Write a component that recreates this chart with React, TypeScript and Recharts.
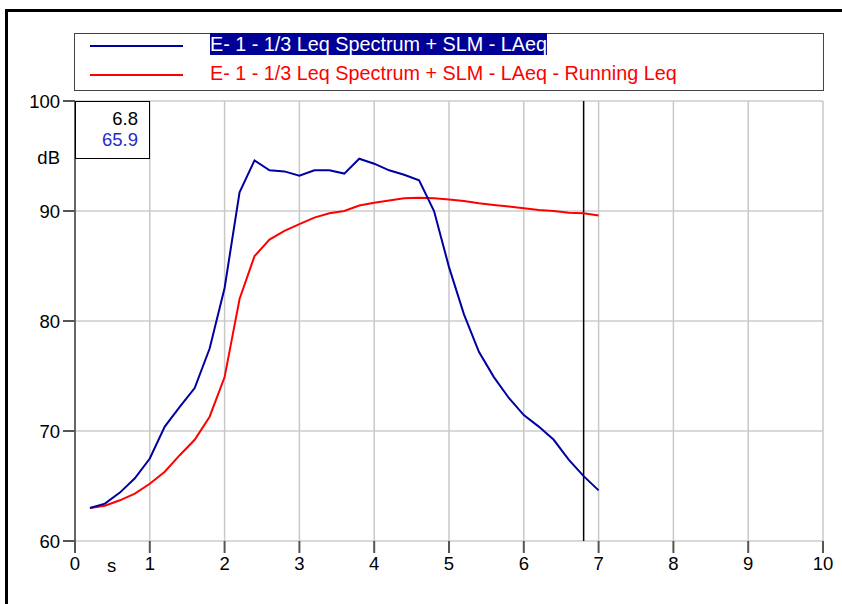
import React from 'react';
import { LineChart, Line, XAxis, YAxis, CartesianGrid, ReferenceLine } from 'recharts';

const times = [0.2, 0.4, 0.6, 0.8, 1.0, 1.2, 1.4, 1.6, 1.8, 2.0, 2.2, 2.4, 2.6, 2.8, 3.0, 3.2, 3.4, 3.6, 3.8, 4.0, 4.2, 4.4, 4.6, 4.8, 5.0, 5.2, 5.4, 5.6, 5.8, 6.0, 6.2, 6.4, 6.6, 6.8, 7.0];
const laeq = [63.0, 63.4, 64.4, 65.7, 67.5, 70.4, 72.2, 73.9, 77.5, 83.0, 91.7, 94.6, 93.7, 93.6, 93.2, 93.7, 93.7, 93.4, 94.75, 94.3, 93.7, 93.3, 92.8, 90.0, 84.9, 80.6, 77.2, 74.9, 73.0, 71.45, 70.4, 69.2, 67.4, 65.9, 64.6];
const runningLeq = [63.0, 63.2, 63.7, 64.3, 65.2, 66.3, 67.8, 69.2, 71.3, 74.9, 82.0, 85.9, 87.4, 88.2, 88.8, 89.4, 89.8, 90.0, 90.5, 90.75, 90.95, 91.15, 91.2, 91.15, 91.05, 90.9, 90.7, 90.55, 90.4, 90.25, 90.1, 90.0, 89.85, 89.8, 89.6];
const xTicks = [0, 1, 2, 3, 4, 5, 6, 7, 8, 9, 10];
const yTicks = [60, 70, 80, 90, 100];
const seriesNames = ['E- 1 - 1/3 Leq Spectrum + SLM - LAeq', 'E- 1 - 1/3 Leq Spectrum + SLM - LAeq - Running Leq'];
const cursorTime = 6.8;
const cursorValue = 65.9;

const data = times.map((t, i) => ({ t, a: laeq[i], b: runningLeq[i] }));

const FONT = '"Liberation Sans", Arial, sans-serif';

export default function App() {
  return (
    <div style={{ position: 'absolute', left: 0, top: 0, width: 842, height: 604, overflow: 'hidden', background: '#fff', fontFamily: FONT }}>
      <div style={{ position: 'absolute', left: 5, top: 9, width: 900, height: 700, border: '3px solid #000', boxSizing: 'border-box' }} />
      <div style={{ position: 'absolute', left: 0, top: 0 }}>
        <LineChart width={842} height={604} data={data} margin={{ top: 101, right: 19, bottom: 23, left: 15 }}>
          <CartesianGrid horizontal={true} vertical={false} stroke="#d9d9d9" strokeWidth={2} />
          <CartesianGrid horizontal={false} vertical={true} stroke="#c8c8c8" strokeWidth={1.5} />
          <XAxis
            type="number"
            dataKey="t"
            domain={[0, 10]}
            ticks={xTicks}
            interval={0}
            axisLine={false}
            tickLine={{ stroke: '#555', strokeWidth: 2 }}
            tickSize={12}
            tickMargin={4}
            height={40}
            tick={{ fill: '#000', fontSize: 18.5, fontFamily: FONT }}
          />
          <YAxis
            type="number"
            domain={[60, 100]}
            ticks={yTicks}
            interval={0}
            axisLine={{ stroke: '#666', strokeWidth: 2 }}
            tickLine={{ stroke: '#555', strokeWidth: 2 }}
            tickSize={12}
            tickMargin={3}
            width={60}
            tick={{ fill: '#000', fontSize: 18.5, fontFamily: FONT }}
          />
          <ReferenceLine x={cursorTime} stroke="#000" strokeWidth={1.5} />
          <Line type="linear" dataKey="b" stroke="#ff0000" strokeWidth={2} dot={false} isAnimationActive={false} />
          <Line type="linear" dataKey="a" stroke="#0000a0" strokeWidth={2} dot={false} isAnimationActive={false} />
        </LineChart>
      </div>
      {/* legend */}
      <div style={{ position: 'absolute', left: 74, top: 33, width: 750, height: 58, border: '1px solid #444', boxSizing: 'border-box', background: '#fff' }} />
      <div style={{ position: 'absolute', left: 90, top: 45, width: 93, height: 2, background: '#0000a0' }} />
      <div style={{ position: 'absolute', left: 90, top: 74, width: 93, height: 2, background: '#ff0000' }} />
      <div style={{ position: 'absolute', left: 210, top: 33, fontSize: 19.8, lineHeight: '22px', whiteSpace: 'nowrap' }}>
        <span style={{ background: '#000096', color: '#fff' }}>{seriesNames[0]}</span>
      </div>
      <div style={{ position: 'absolute', left: 210, top: 61.5, fontSize: 19.8, lineHeight: '22px', whiteSpace: 'nowrap', color: '#ff0000' }}>
        {seriesNames[1]}
      </div>
      {/* value box */}
      <div style={{ position: 'absolute', left: 75, top: 101, width: 75, height: 58, border: '1px solid #000', boxSizing: 'border-box', background: '#fff' }} />
      <div style={{ position: 'absolute', left: 75, top: 109.6, width: 63, textAlign: 'right', fontSize: 18.5, lineHeight: '18px', color: '#000' }}>{cursorTime.toFixed(1)}</div>
      <div style={{ position: 'absolute', left: 75, top: 130.6, width: 63, textAlign: 'right', fontSize: 18.5, lineHeight: '18px', color: '#2a2ac8' }}>{cursorValue.toFixed(1)}</div>
      {/* axis unit labels */}
      <div style={{ position: 'absolute', left: 0, top: 148.6, width: 60, textAlign: 'right', fontSize: 18.5, lineHeight: '18px', color: '#000' }}>dB</div>
      <div style={{ position: 'absolute', left: 107, top: 556.6, fontSize: 18.5, lineHeight: '18px', color: '#000' }}>s</div>
    </div>
  );
}
